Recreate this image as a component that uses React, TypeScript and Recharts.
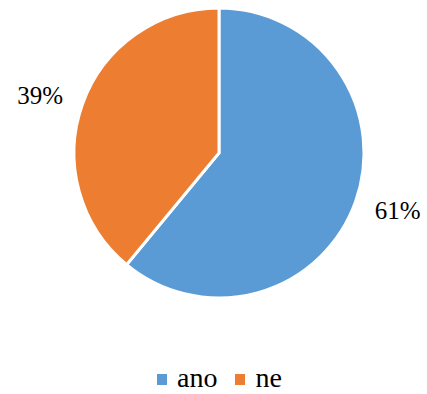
import { PieChart, Pie, Cell, Legend } from "recharts";

const categories = ["ano", "ne"];
const values = [61, 39];
const labels = ["61%", "39%"];
const COLORS = ["#5B9BD5", "#ED7D31"];
const FONT = "'Liberation Serif', 'Times New Roman', 'DejaVu Serif', serif";

const data = categories.map((name, i) => ({ name, value: values[i], label: labels[i] }));

const RAD = Math.PI / 180;

function renderLabel(props: any) {
  const { cx, cy, midAngle, outerRadius, index } = props;
  const x = cx + (outerRadius + 45) * Math.cos(-midAngle * RAD);
  const y = cy + (outerRadius + 25) * Math.sin(-midAngle * RAD);
  return (
    <text
      x={x}
      y={y}
      textAnchor="middle"
      dominantBaseline="central"
      fill="#000"
      style={{ fontFamily: FONT, fontSize: 25 }}
    >
      {data[index].label}
    </text>
  );
}

function LegendContent() {
  return (
    <div style={{ display: "flex", alignItems: "center", fontFamily: FONT, fontSize: 28, color: "#000", lineHeight: "normal" }}>
      {data.map((d, i) => (
        <div key={d.name} style={{ display: "flex", alignItems: "center", marginRight: i === 0 ? 18 : 0 }}>
          <span
            style={{
              width: 10,
              height: 11,
              background: COLORS[i],
              display: "inline-block",
              marginRight: 10,
              position: "relative",
              top: 1,
            }}
          />
          <span>{d.name}</span>
        </div>
      ))}
    </div>
  );
}

export default function App() {
  return (
    <div style={{ position: "absolute", left: 0, top: 0, width: 427, height: 394, background: "#fff" }}>
      <PieChart width={427} height={394} margin={{ top: 0, right: 0, bottom: 0, left: 0 }}>
        <Pie
          data={data}
          dataKey="value"
          nameKey="name"
          cx={219}
          cy={153}
          outerRadius={145}
          startAngle={90}
          endAngle={-270}
          stroke="#fff"
          strokeWidth={3}
          label={renderLabel}
          labelLine={false}
          isAnimationActive={false}
        >
          {data.map((d, i) => (
            <Cell key={d.name} fill={COLORS[i]} />
          ))}
        </Pie>
        <Legend
          content={<LegendContent />}
          wrapperStyle={{ position: "absolute", left: 157, top: 362, width: "auto" }}
        />
      </PieChart>
    </div>
  );
}
